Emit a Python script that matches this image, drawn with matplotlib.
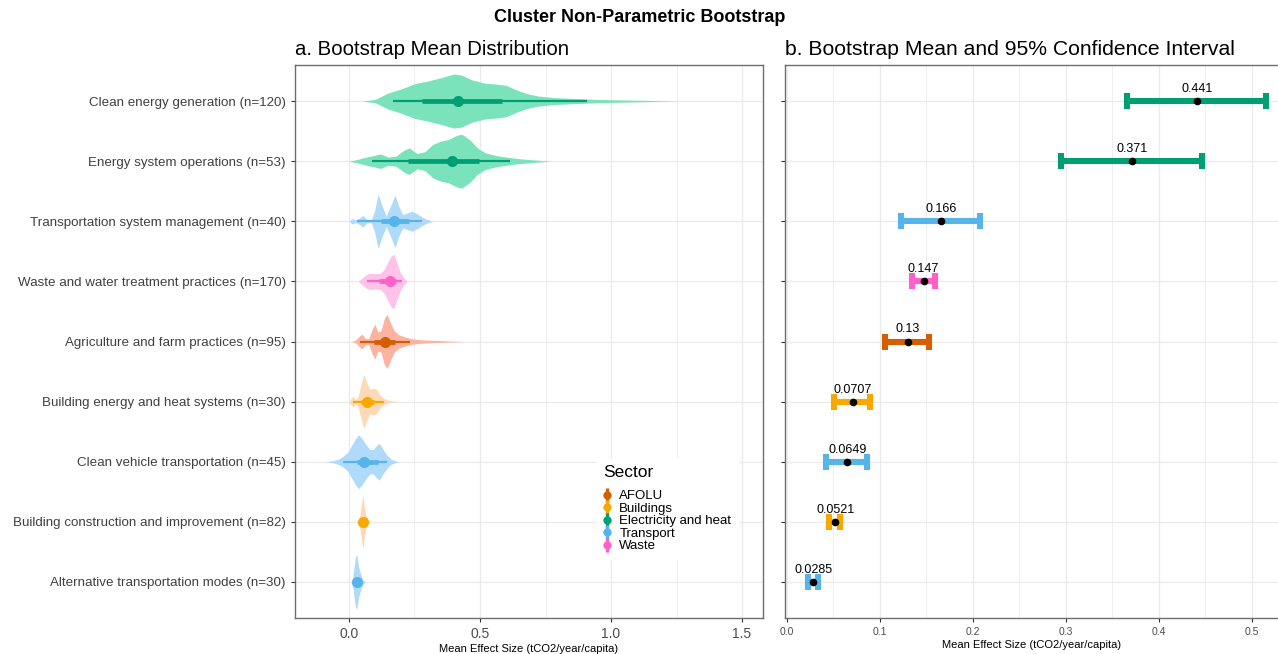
import numpy as np
import matplotlib
matplotlib.use("Agg")
import matplotlib.pyplot as plt
from matplotlib.lines import Line2D
from matplotlib.legend_handler import HandlerTuple

plt.rcParams['font.family'] = ['Liberation Sans', 'DejaVu Sans']

# ---------------- data ----------------
categories = [
    "Clean energy generation (n=120)",
    "Energy system operations (n=53)",
    "Transportation system management (n=40)",
    "Waste and water treatment practices (n=170)",
    "Agriculture and farm practices (n=95)",
    "Building energy and heat systems (n=30)",
    "Clean vehicle transportation (n=45)",
    "Building construction and improvement (n=82)",
    "Alternative transportation modes (n=30)",
]
sectors = ["Electricity and heat", "Electricity and heat", "Transport", "Waste",
           "AFOLU", "Buildings", "Transport", "Buildings", "Transport"]
sector_order = ["AFOLU", "Buildings", "Electricity and heat", "Transport", "Waste"]

# bootstrap mean + 95% CI (panel b)
means = [0.441, 0.371, 0.166, 0.147, 0.13, 0.0707, 0.0649, 0.0521, 0.0285]
ci_low = [0.366, 0.295, 0.123, 0.134, 0.106, 0.0505, 0.042, 0.0455, 0.0222]
ci_high = [0.515, 0.446, 0.208, 0.159, 0.153, 0.0896, 0.0863, 0.0573, 0.0333]
mean_labels = ["0.441", "0.371", "0.166", "0.147", "0.13", "0.0707", "0.0649", "0.0521", "0.0285"]

# point-interval summaries (panel a)
pi_point = [0.417, 0.395, 0.170, 0.156, 0.136, 0.067, 0.057, 0.053, 0.029]
pi_thick_lo = [0.277, 0.226, 0.121, 0.115, 0.095, 0.045, 0.030, 0.048, 0.024]
pi_thick_hi = [0.585, 0.498, 0.229, 0.180, 0.175, 0.095, 0.110, 0.058, 0.034]
pi_thin_lo = [0.167, 0.089, 0.032, 0.067, 0.042, 0.017, -0.022, 0.045, 0.022]
pi_thin_hi = [0.907, 0.614, 0.280, 0.203, 0.232, 0.135, 0.144, 0.060, 0.036]

# violin density profiles (relative width)
dens_x = [
    [0.05, 0.10, 0.15, 0.20, 0.25, 0.30, 0.35, 0.40, 0.43, 0.47, 0.52, 0.56, 0.60, 0.64,
     0.68, 0.72, 0.78, 0.85, 0.95, 1.05, 1.15, 1.25],
    [0.00, 0.03, 0.07, 0.10, 0.12, 0.15, 0.18, 0.21, 0.23, 0.26, 0.29, 0.32, 0.35, 0.38,
     0.41, 0.43, 0.46, 0.49, 0.52, 0.56, 0.60, 0.65, 0.70, 0.77],
    [0.0, 0.012, 0.025, 0.04, 0.053, 0.068, 0.085, 0.098, 0.111, 0.125, 0.142, 0.158,
     0.176, 0.19, 0.205, 0.22, 0.24, 0.26, 0.28, 0.30, 0.32],
    [0.035, 0.05, 0.065, 0.08, 0.10, 0.12, 0.135, 0.15, 0.162, 0.172, 0.182, 0.195, 0.21, 0.222],
    [0.01, 0.025, 0.04, 0.05, 0.062, 0.075, 0.088, 0.099, 0.11, 0.122, 0.135, 0.145, 0.158,
     0.172, 0.19, 0.21, 0.24, 0.28, 0.33, 0.38, 0.44],
    [0.0, 0.008, 0.015, 0.025, 0.035, 0.045, 0.057, 0.068, 0.08, 0.093, 0.105, 0.118,
     0.132, 0.15, 0.17, 0.19],
    [-0.09, -0.06, -0.04, -0.022, -0.005, 0.01, 0.025, 0.036, 0.05, 0.067, 0.08, 0.093,
     0.105, 0.116, 0.13, 0.144, 0.16, 0.175, 0.19],
    [0.028, 0.036, 0.042, 0.048, 0.053, 0.058, 0.064, 0.072, 0.082],
    [0.008, 0.014, 0.02, 0.025, 0.03, 0.036, 0.044, 0.052, 0.062],
]
dens_w = [
    [0.0, 0.06, 0.30, 0.45, 0.64, 0.74, 0.86, 1.0, 0.96, 0.78, 0.66, 0.63, 0.58, 0.41,
     0.27, 0.19, 0.13, 0.10, 0.06, 0.04, 0.02, 0.0],
    [0.0, 0.06, 0.16, 0.22, 0.27, 0.15, 0.19, 0.41, 0.49, 0.28, 0.35, 0.62, 0.74, 0.80,
     0.95, 1.0, 0.80, 0.49, 0.31, 0.21, 0.15, 0.09, 0.05, 0.0],
    [0.0, 0.1, 0.05, 0.12, 0.22, 0.06, 0.05, 0.4, 1.0, 0.6, 0.2, 0.55, 0.97, 0.55, 0.25,
     0.3, 0.37, 0.28, 0.15, 0.06, 0.0],
    [0.0, 0.12, 0.25, 0.3, 0.28, 0.3, 0.45, 0.75, 0.95, 1.0, 0.7, 0.35, 0.12, 0.0],
    [0.0, 0.05, 0.2, 0.27, 0.12, 0.1, 0.45, 0.65, 0.35, 0.4, 0.85, 1.0, 0.7, 0.4, 0.25,
     0.18, 0.1, 0.06, 0.04, 0.02, 0.0],
    [0.0, 0.12, 0.2, 0.06, 0.2, 0.6, 1.0, 0.7, 0.45, 0.5, 0.45, 0.25, 0.12, 0.05, 0.02, 0.0],
    [0.0, 0.04, 0.1, 0.2, 0.35, 0.6, 0.85, 1.0, 0.85, 0.6, 0.45, 0.45, 0.6, 0.68, 0.45,
     0.25, 0.1, 0.04, 0.0],
    [0.0, 0.08, 0.25, 0.7, 1.0, 0.6, 0.25, 0.08, 0.0],
    [0.0, 0.15, 0.6, 0.95, 1.0, 0.6, 0.3, 0.1, 0.0],
]

# ---------------- styles ----------------
dark = {"AFOLU": "#D55E00", "Buildings": "#F8A800", "Electricity and heat": "#009E73",
        "Transport": "#56B4E9", "Waste": "#FF61C8"}
light = {"AFOLU": "#FCB3A0", "Buildings": "#FDD9B5", "Electricity and heat": "#7BE3BC",
         "Transport": "#B0DAFA", "Waste": "#FFC2E8"}
grid_c = "#EBEBEB"
border_c = "#6E6E6E"
tick_c = "#4D4D4D"
VW = 0.45

W, H = 1278, 654
fig = plt.figure(figsize=(W / 100, H / 100), dpi=100)
ax1 = fig.add_axes([295 / W, 36 / H, 468 / W, 553 / H])
ax2 = fig.add_axes([785 / W, 36 / H, (W - 785) / W, 553 / H])

ys = np.arange(1, len(categories) + 1)

for ax in (ax1, ax2):
    ax.set_ylim(9.6, 0.4)
    ax.set_yticks(ys)
    ax.set_axisbelow(True)
    ax.grid(True, which='major', color=grid_c, lw=1.0)
    ax.grid(True, which='minor', axis='x', color=grid_c, lw=0.6)
    for s in ax.spines.values():
        s.set_color(border_c)
        s.set_linewidth(1.0)
    ax.tick_params(axis='both', which='major', length=3, color="#333333", width=0.8)
    ax.tick_params(axis='both', which='minor', length=0)

# ---- panel a ----
ax1.set_xlim(-0.206, 1.58)
ax1.set_xticks([0.0, 0.5, 1.0, 1.5])
ax1.set_xticklabels(["0.0", "0.5", "1.0", "1.5"], fontsize=10, color=tick_c)
ax1.set_xticks([0.25, 0.75, 1.25], minor=True)
ax1.set_yticklabels(categories, fontsize=9.6, color="#404040")

for i, y in enumerate(ys):
    sec = sectors[i]
    x = np.array(dens_x[i])
    w = np.array(dens_w[i]) * VW
    ax1.fill_between(x, y - w, y + w, color=light[sec], lw=0, zorder=2)
    ax1.plot([pi_thin_lo[i], pi_thin_hi[i]], [y, y], color=dark[sec], lw=1.6,
             solid_capstyle='butt', zorder=3)
    ax1.plot([pi_thick_lo[i], pi_thick_hi[i]], [y, y], color=dark[sec], lw=3.4,
             solid_capstyle='butt', zorder=3)
    ax1.plot([pi_point[i]], [y], 'o', color=dark[sec], ms=8, mew=0, zorder=4)

ax1.set_xlabel("Mean Effect Size (tCO2/year/capita)", fontsize=8, labelpad=2)
ax1.set_title("a. Bootstrap Mean Distribution", loc='left', fontsize=14.7, pad=7)

handles = [(Line2D([], [], color=dark[s], lw=0, marker='|', ms=10, mew=2.4),
            Line2D([], [], color=dark[s], lw=0, marker='o', ms=6, mew=0))
           for s in sector_order]
leg = ax1.legend(handles, sector_order, handler_map={tuple: HandlerTuple(ndivide=1)},
                 title="Sector", loc='upper left', bbox_to_anchor=(0.631, 0.30),
                 fontsize=9.5, title_fontsize=12.5, frameon=True, fancybox=False,
                 edgecolor='white', facecolor='white', framealpha=1,
                 handlelength=0.6, handletextpad=0.6, labelspacing=0.02,
                 borderpad=0.5)
leg._legend_box.align = "left"
leg._legend_box.sep = 7
leg.set_zorder(10)

# ---- panel b ----
ax2.set_xlim(-0.002, 0.528)
ax2.set_xticks([0.0, 0.1, 0.2, 0.3, 0.4, 0.5])
ax2.set_xticklabels(["0.0", "0.1", "0.2", "0.3", "0.4", "0.5"], fontsize=7.5, color=tick_c)
ax2.set_xticks([0.05, 0.15, 0.25, 0.35, 0.45], minor=True)
ax2.set_yticklabels([])
ax2.spines['right'].set_visible(False)

for i, y in enumerate(ys):
    sec = sectors[i]
    m = means[i]
    ax2.errorbar([m], [y], xerr=[[m - ci_low[i]], [ci_high[i] - m]], fmt='none',
                 ecolor=dark[sec], elinewidth=4.4, capsize=5.8, capthick=4.4, zorder=3)
    ax2.plot([m], [y], 'o', color='black', ms=5.5, mew=0, zorder=4)
    ax2.annotate(mean_labels[i], (m, y), xytext=(0, 6.5), textcoords='offset points',
                 ha='center', va='baseline', fontsize=9, color='black')

ax2.set_xlabel("Mean Effect Size (tCO2/year/capita)", fontsize=8, labelpad=2)
ax2.set_title("b. Bootstrap Mean and 95% Confidence Interval", loc='left', fontsize=15.2, pad=7)

fig.text(640 / W, 1 - 18 / H, "Cluster Non-Parametric Bootstrap", ha='center', va='center',
         fontsize=13, fontweight='bold')

fig.savefig("out.png", dpi=100)
